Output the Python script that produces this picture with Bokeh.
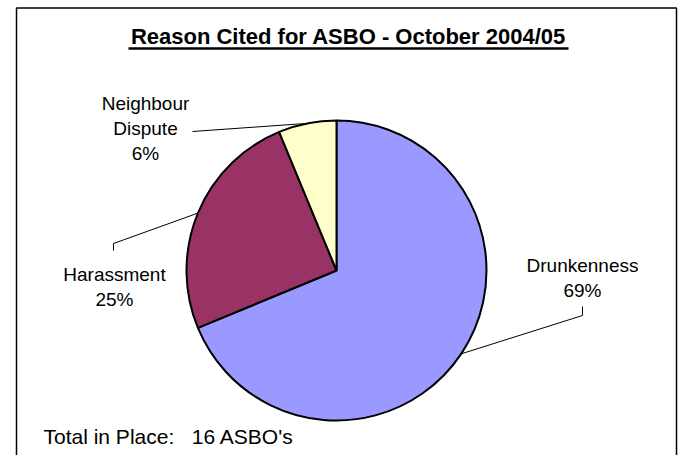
import math
from bokeh.plotting import figure
from bokeh.models import Range1d, ColumnDataSource
from bokeh.core.properties import value
from bokeh.embed import file_html
from bokeh.resources import INLINE

# ---- data ----
categories = ["Drunkenness", "Harassment", "Neighbour Dispute"]
label_lines = [["Drunkenness"], ["Harassment"], ["Neighbour", "Dispute"]]
counts = [11, 4, 1]
colors = ["#9999FF", "#993366", "#FFFFCC"]
title_text = "Reason Cited for ASBO - October 2004/05"
total_text = "Total in Place:\u00a0\u00a0 16 ASBO's"

W, H = 681, 455
FONT = "Liberation Sans"

def sy(v):
    # screen y (page pixels, downward) -> data y
    return H - v

p = figure(width=W, height=H, output_backend="svg", toolbar_location=None,
           x_range=Range1d(0, W), y_range=Range1d(0, H),
           min_border=0, background_fill_color="white", border_fill_color="white")
p.outline_line_color = None
p.xaxis.visible = False
p.yaxis.visible = False
p.xgrid.visible = False
p.ygrid.visible = False

# outer frame
p.line(x=[16, 16, 676, 676], y=[sy(470), sy(7.5), sy(7.5), sy(470)],
       line_color="black", line_width=1.5)

# pie
cx, cy, r = 336, sy(270), 150
total = sum(counts)
starts, ends, mids = [], [], []
cum = 0.0
for c in counts:
    c0 = cum / total
    cum += c
    c1 = cum / total
    s = math.pi / 2 - 2 * math.pi * c1
    e = math.pi / 2 - 2 * math.pi * c0
    starts.append(s)
    ends.append(e)
    mids.append((s + e) / 2)

src = ColumnDataSource(dict(start=starts, end=ends, color=colors, cat=categories))
p.wedge(x=cx, y=cy, radius=r, start_angle="start", end_angle="end",
        fill_color="color", line_color="black", line_width=2, source=src)

# labels + leader lines (label line centres)
pcts = [round(100 * c / total) for c in counts]
label_pos = [(582, [265, 290]), (114, [274, 299]), (145, [103, 128, 153])]
elbows = [[(582, 315), (582, 306)], [(113, 243), (113, 250)], [(192, 131)]]

for i in range(len(categories)):
    lx, centres = label_pos[i]
    lines = label_lines[i] + [f"{pcts[i]}%"]
    for txt, b in zip(lines, centres):
        p.text(x=[lx], y=[sy(b)], text=[txt], text_align="center",
               text_baseline="middle", text_font=value(FONT),
               text_font_size="19px", text_color="black")
    ex = cx + r * math.cos(mids[i])
    ey = cy + r * math.sin(mids[i])
    xs = [ex] + [pt[0] for pt in elbows[i]]
    ys = [ey] + [sy(pt[1]) for pt in elbows[i]]
    p.line(x=xs, y=ys, line_color="black", line_width=1)

# title with underline
p.text(x=[348], y=[sy(36)], text=[title_text], text_align="center",
       text_baseline="middle", text_font=value(FONT),
       text_font_size="22px", text_font_style="bold", text_color="black")
p.line(x=[348 - 220, 348 + 220], y=[sy(48), sy(48)], line_color="black", line_width=2.5)

# footer
p.text(x=[43], y=[sy(436)], text=[total_text], text_align="left",
       text_baseline="middle", text_font=value(FONT),
       text_font_size="21px", text_color="black")

open("out.html", "w").write(file_html(p, INLINE))
